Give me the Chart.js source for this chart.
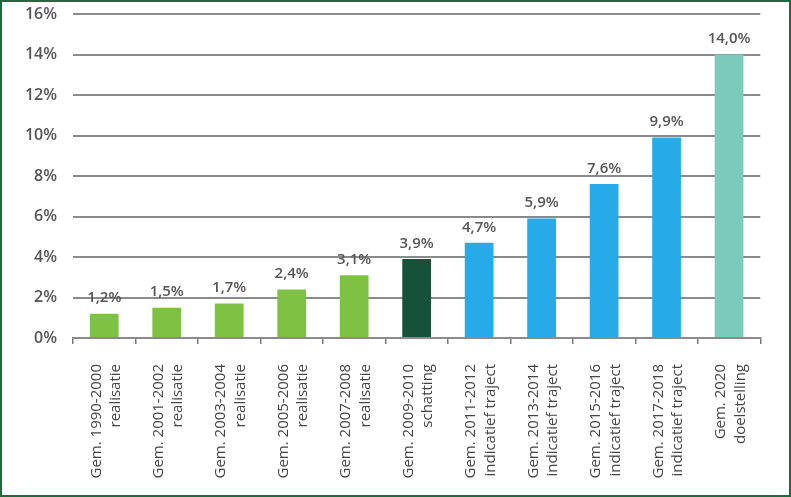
<!DOCTYPE html>
<html>
<head>
<meta charset="utf-8">
<script src="https://cdn.jsdelivr.net/npm/chart.js@4.4.0/dist/chart.umd.min.js"></script>
<style>
  html, body { margin: 0; padding: 0; background: #fff; }
  #frame {
    width: 791px; height: 497px; box-sizing: border-box;
    border: 2px solid #1b6b3f; background: #fff;
  }
  #chart { display: block; }
</style>
</head>
<body>
<div id="frame"><canvas id="chart" width="787" height="493"></canvas></div>
<script>
// categories (two lines each, rotated on the axis)
const categories = [
    ['Gem. 1990-2000', 'realisatie'],
    ['Gem. 2001-2002', 'realisatie'],
    ['Gem. 2003-2004', 'realisatie'],
    ['Gem. 2005-2006', 'realisatie'],
    ['Gem. 2007-2008', 'realisatie'],
    ['Gem. 2009-2010', 'schatting'],
    ['Gem. 2011-2012', 'indicatief traject'],
    ['Gem. 2013-2014', 'indicatief traject'],
    ['Gem. 2015-2016', 'indicatief traject'],
    ['Gem. 2017-2018', 'indicatief traject'],
    ['Gem. 2020', 'doelstelling']
];
const shares = [1.2, 1.5, 1.7, 2.4, 3.1, 3.9, 4.7, 5.9, 7.6, 9.9, 14.0];
const yTicks = [0, 2, 4, 6, 8, 10, 12, 14, 16];

const green = '#7dc242', darkGreen = '#16523a', blue = '#26abe8', teal = '#7bcbbb';
const barColors = categories.map((c, i) =>
    c[1] === 'realisatie' ? green :
    c[1] === 'schatting' ? darkGreen :
    c[1] === 'doelstelling' ? teal : blue);

const fmt = v => v.toFixed(1).replace('.', ',') + '%';

// value labels above the bars
const valueLabels = {
    id: 'valueLabels',
    afterDatasetsDraw(chart) {
        const ctx = chart.ctx;
        const meta = chart.getDatasetMeta(0);
        ctx.save();
        ctx.font = '600 15px "Open Sans"';
        ctx.fillStyle = '#555';
        ctx.textAlign = 'center';
        ctx.textBaseline = 'bottom';
        meta.data.forEach((bar, i) => {
            ctx.fillText(fmt(shares[i]), bar.x, bar.y - 8);
        });
        ctx.restore();
    }
};

new Chart(document.getElementById('chart'), {
    type: 'bar',
    data: {
        labels: categories,
        datasets: [{
            data: shares,
            backgroundColor: barColors,
            categoryPercentage: 1,
            barPercentage: 0.46
        }]
    },
    options: {
        responsive: false,
        animation: false,
        layout: { padding: { top: 12, right: 21, left: 0, bottom: 0 } },
        plugins: { legend: { display: false }, tooltip: { enabled: false } },
        scales: {
            y: {
                min: 0, max: 16,
                afterFit: s => { s.width = 71; s.paddingTop = 0; s.paddingBottom = 0; },
                afterBuildTicks: s => { s.ticks = yTicks.map(v => ({ value: v })); },
                ticks: {
                    callback: v => v + '%',
                    color: '#555',
                    font: { family: 'Open Sans', size: 16, weight: '600' },
                    padding: 16
                },
                grid: { color: '#8a8a8a', lineWidth: 2, drawTicks: false },
                border: { display: false }
            },
            x: {
                afterFit: s => { s.height = 157; s.paddingTop = 0; },
                ticks: {
                    minRotation: 90, maxRotation: 90,
                    color: '#444',
                    font: { family: 'Open Sans', size: 15, lineHeight: 1.3 },
                    padding: 20,
                    labelOffset: -8,
                    autoSkip: false
                },
                grid: {
                    offset: true, drawOnChartArea: false, drawTicks: true,
                    tickLength: 6, color: '#7a7a7a', lineWidth: 1.5
                },
                border: { display: true, color: '#8a8a8a', width: 2 }
            }
        }
    },
    plugins: [valueLabels]
});
</script>
</body>
</html>
